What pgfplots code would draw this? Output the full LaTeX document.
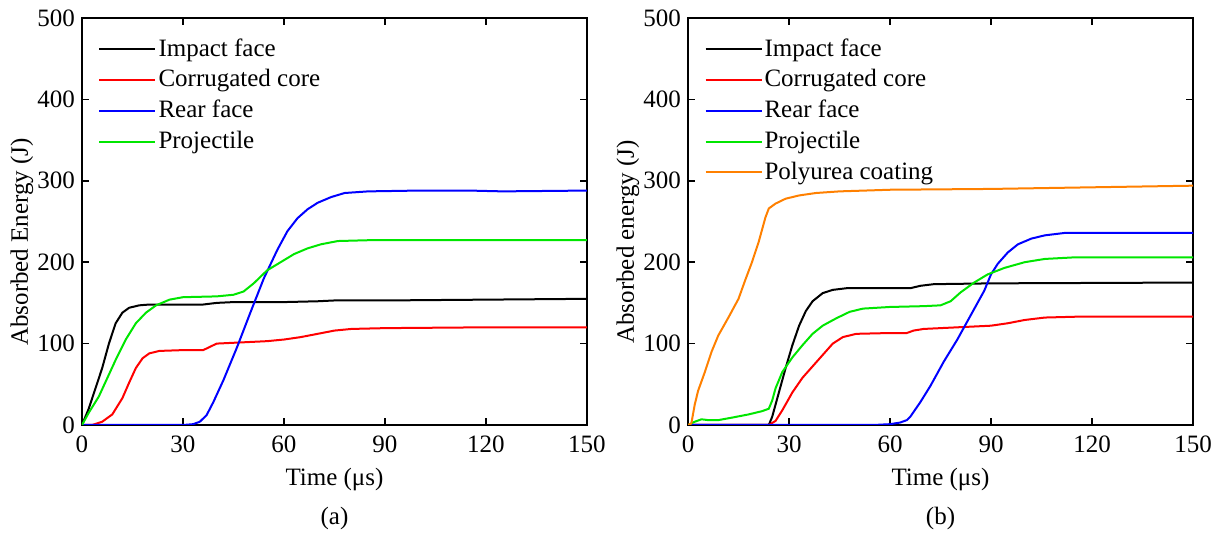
\documentclass[border=0pt]{standalone}
\usepackage{fontspec}
\setmainfont{Liberation Serif}
\usepackage{pgfplots}
\pgfplotsset{compat=1.18}

\definecolor{cgreen}{RGB}{0,230,0}
\definecolor{corange}{RGB}{255,128,0}

\newcommand{\figfont}{\fontsize{12.5}{14.5}\selectfont}

\pgfplotsset{
  panel/.style={
    scale only axis, width=252.5pt, height=203.5pt,
    xmin=0, xmax=150, ymin=0, ymax=500,
    clip mode=individual,
    xtick={0,30,...,150}, ytick={0,100,...,500},
    tick align=inside, major tick length=3.5pt,
    axis line style={line width=0.75pt},
    every tick/.style={black, line width=0.75pt},
    /pgf/number format/assume math mode=true,
    font=\figfont,
    ticklabel style={font=\figfont},
    xticklabel style={yshift=-2pt},
    xlabel={Time (μs)},
    xlabel style={at={(axis description cs:0.5,-0.133)}, anchor=center},
    ylabel style={at={(axis description cs:-0.119,0.45)}, anchor=center},
    legend cell align=left,
    legend style={draw=none, fill=none, at={(0.02,0.965)}, anchor=north west,
      row sep=3.2pt, font=\figfont,
      nodes={inner sep=1pt}},
    legend image code/.code={\draw[#1] (0pt,0pt) -- (28pt,0pt);},
    every axis plot/.append style={line width=1pt},
  }
}

\begin{document}
\begin{tikzpicture}
\path[use as bounding box] (-41pt,-57.5pt) rectangle (567.5pt,212.5pt);

\begin{axis}[panel, ylabel={Absorbed Energy (J)}]
\addplot[black] coordinates {(0,0) (2,20) (4,45) (6,70) (8,100) (10,125) (12,138) (14,144) (17,147) (20,148) (30,148) (36,148) (40,150) (45,151) (60,151) (70,152) (75,153) (90,153) (120,154) (150,155)};
\addplot[red] coordinates {(0,0) (3,0) (6,4) (9,13) (12,33) (14,52) (16,70) (18,82) (20,88) (23,91) (30,92) (36,92) (38,96) (40,100) (45,101) (55,103) (60,105) (65,108) (70,112) (75,116) (80,118) (90,119) (120,120) (150,120)};
\addplot[blue] coordinates {(0,0) (30,0) (33,1) (35,4) (37,12) (39,28) (42,55) (46,95) (50,138) (54,180) (58,215) (61,238) (64,254) (67,265) (70,273) (74,280) (78,285) (85,287) (100,288) (115,288) (125,287) (150,288)};
\addplot[cgreen] coordinates {(0,0) (2,15) (5,35) (8,62) (10,80) (13,105) (16,125) (19,138) (22,147) (26,154) (30,157) (40,158) (45,160) (48,164) (51,174) (55,190) (59,200) (63,210) (67,217) (71,222) (76,226) (85,227) (150,227)};
\legend{Impact face, Corrugated core, Rear face, Projectile}
\node[font=\figfont] at (axis description cs:0.5,-0.2285) {(a)};
\end{axis}

\begin{axis}[panel, xshift=303pt, ylabel={Absorbed energy (J)}]
\addplot[black] coordinates {(0,0) (24,0) (25,10) (27,40) (29,70) (31,98) (33,122) (35,140) (37,152) (40,162) (43,166) (47,168) (60,168) (66,168) (69,171) (73,173) (90,174) (150,175)};
\addplot[red] coordinates {(0,0) (24,0) (26,5) (28,18) (31,40) (34,58) (37,72) (40,86) (43,100) (46,108) (50,112) (60,113) (65,113) (67,116) (70,118) (80,120) (90,122) (95,125) (100,129) (106,132) (115,133) (150,133)};
\addplot[blue] coordinates {(0,0) (55,0) (60,1) (63,3) (65,6) (66,10) (69,28) (72,48) (76,78) (80,105) (84,135) (88,165) (90,185) (92,198) (95,212) (98,222) (102,229) (106,233) (112,236) (150,236)};
\addplot[cgreen] coordinates {(0,0) (2,4) (4,7) (6,6) (9,6) (13,9) (18,13) (22,17) (24,20) (25,30) (26,45) (28,65) (31,83) (34,98) (37,112) (40,122) (44,131) (48,139) (52,143) (60,145) (70,146) (75,147) (78,152) (81,163) (85,175) (89,185) (94,193) (100,200) (106,204) (115,206) (150,206)};
\addplot[corange] coordinates {(0,0) (1,2) (2,25) (3,42) (5,65) (7,90) (9,110) (12,132) (15,155) (17,178) (19,200) (21,225) (23,255) (24,266) (26,272) (29,278) (33,282) (38,285) (45,287) (60,289) (90,290) (120,292) (150,294)};
\legend{Impact face, Corrugated core, Rear face, Projectile, Polyurea coating}
\node[font=\figfont] at (axis description cs:0.5,-0.2285) {(b)};
\end{axis}
\end{tikzpicture}
\end{document}
